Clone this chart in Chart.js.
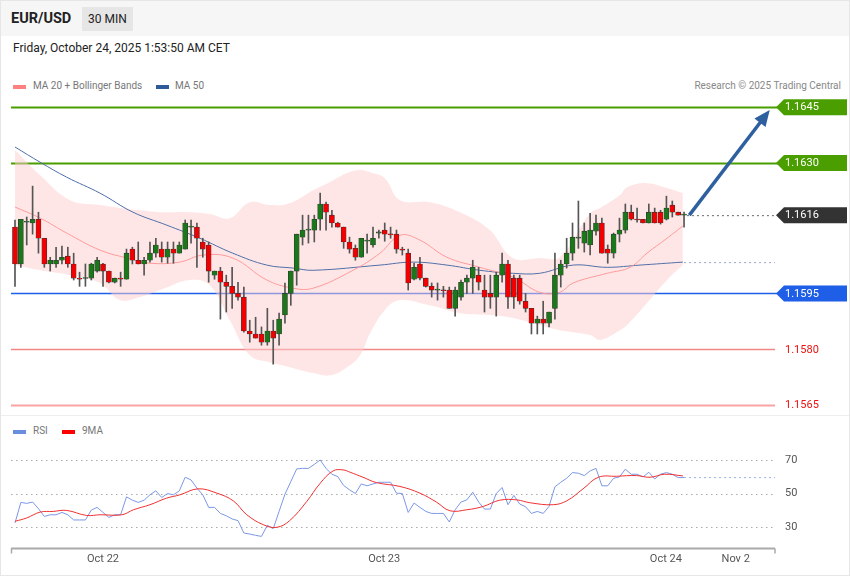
<!DOCTYPE html>
<html><head><meta charset="utf-8">
<script src="https://cdn.jsdelivr.net/npm/chart.js@4.4.1/dist/chart.umd.min.js"></script>
<style>
body{margin:0;width:850px;height:576px;overflow:hidden;font-family:Roboto,Arial,sans-serif;background:#fff;position:relative}
#frame{position:absolute;left:0;top:0;width:848px;height:574px;border:1px solid #e6e6e6}
#hdr{position:absolute;left:1px;top:1px;width:848px;height:35px;background:#f6f6f6}
.t{position:absolute;white-space:nowrap}
canvas{position:absolute;left:0}
</style></head><body>
<div id="frame"></div>
<div id="hdr"></div>
<div class="t" style="left:11px;top:10px;font-size:14.5px;font-weight:bold;color:#222">EUR/USD</div>
<div class="t" style="left:82px;top:7px;width:51px;height:24px;background:#e6e6e6;font-size:12px;line-height:24px;text-align:center;color:#222">30 MIN</div>
<div class="t" style="left:13px;top:41px;font-size:12px;color:#222">Friday, October 24, 2025 1:53:50 AM CET</div>
<div class="t" style="left:13px;top:85px;width:13px;height:4px;background:#ff8080"></div>
<div class="t" style="left:33px;top:80px;font-size:10px;color:#777">MA 20 + Bollinger Bands</div>
<div class="t" style="left:156px;top:85px;width:13px;height:4px;background:#2f5a9a"></div>
<div class="t" style="left:175px;top:80px;font-size:10px;color:#777">MA 50</div>
<div class="t" style="right:9px;top:80px;font-size:10px;color:#888">Research © 2025 Trading Central</div>
<div class="t" style="left:1px;top:415px;width:848px;height:1px;background:#eee"></div>
<div class="t" style="left:13px;top:430px;width:13px;height:4px;background:#6b8de0"></div>
<div class="t" style="left:33px;top:425px;font-size:10px;color:#777">RSI</div>
<div class="t" style="left:62px;top:430px;width:13px;height:4px;background:#f00"></div>
<div class="t" style="left:82px;top:425px;font-size:10px;color:#777">9MA</div>
<canvas id="p" width="850" height="415" style="top:0"></canvas>
<canvas id="r" width="850" height="161" style="top:415px"></canvas>
<script>
const opens=[1.16128,1.16029,1.16141,1.16139,1.16149,1.16098,1.16029,1.16029,1.16039,1.16050,1.16029,1.15991,1.15990,1.15991,1.16010,1.16029,1.16010,1.15980,1.15991,1.15988,1.16069,1.16039,1.16029,1.16039,1.16058,1.16069,1.16047,1.16069,1.16058,1.16069,1.16128,1.16128,1.16088,1.16080,1.15999,1.16010,1.15980,1.15969,1.15950,1.15940,1.15849,1.15841,1.15841,1.15819,1.15849,1.15841,1.15892,1.15950,1.16010,1.16101,1.16120,1.16120,1.16149,1.16190,1.16160,1.16139,1.16128,1.16088,1.16071,1.16047,1.16090,1.16080,1.16112,1.16120,1.16109,1.16109,1.16069,1.16058,1.15988,1.16029,1.15991,1.15969,1.15959,1.15959,1.15959,1.15910,1.15940,1.15980,1.15991,1.15999,1.15959,1.15950,1.15940,1.15999,1.16029,1.15991,1.15991,1.15929,1.15910,1.15870,1.15881,1.15870,1.15910,1.15999,1.16029,1.16058,1.16098,1.16085,1.16080,1.16117,1.16139,1.16069,1.16058,1.16109,1.16120,1.16168,1.16149,1.16149,1.16139,1.16168,1.16168,1.16149,1.16187,1.16168,1.16160];
const highs=[1.16147,1.16149,1.16155,1.16238,1.16168,1.16098,1.16047,1.16074,1.16077,1.16074,1.16058,1.16007,1.16029,1.16031,1.16047,1.16031,1.16010,1.15991,1.16007,1.16069,1.16074,1.16088,1.16047,1.16088,1.16098,1.16088,1.16088,1.16088,1.16088,1.16147,1.16147,1.16139,1.16098,1.16088,1.16010,1.16020,1.15999,1.16020,1.15980,1.15967,1.15878,1.15886,1.15860,1.15910,1.15878,1.15897,1.15978,1.16010,1.16109,1.16160,1.16160,1.16160,1.16219,1.16195,1.16173,1.16141,1.16128,1.16101,1.16080,1.16098,1.16109,1.16128,1.16120,1.16139,1.16128,1.16120,1.16074,1.16069,1.16031,1.16047,1.15991,1.15978,1.15978,1.15969,1.15967,1.15967,1.15986,1.15999,1.16039,1.16020,1.15999,1.15999,1.16007,1.16058,1.16039,1.15999,1.15999,1.15950,1.15910,1.15889,1.15929,1.15900,1.16058,1.16039,1.16098,1.16139,1.16198,1.16139,1.16165,1.16160,1.16152,1.16080,1.16112,1.16152,1.16190,1.16187,1.16179,1.16149,1.16190,1.16179,1.16173,1.16211,1.16198,1.16168,1.16168];
const lows=[1.15969,1.16020,1.16080,1.16109,1.16058,1.16020,1.16010,1.16020,1.16029,1.16020,1.15986,1.15969,1.15969,1.15986,1.16007,1.15969,1.15978,1.15978,1.15969,1.15988,1.16029,1.16029,1.15999,1.16034,1.16047,1.16034,1.16031,1.16031,1.16058,1.16069,1.16085,1.16020,1.16047,1.15980,1.15988,1.15881,1.15900,1.15910,1.15932,1.15846,1.15819,1.15830,1.15811,1.15811,1.15760,1.15811,1.15870,1.15918,1.15972,1.16080,1.16085,1.16088,1.16120,1.16120,1.16128,1.16128,1.16071,1.16058,1.16039,1.16047,1.16058,1.16074,1.16098,1.16090,1.16098,1.16058,1.16053,1.15959,1.15986,1.15986,1.15967,1.15940,1.15932,1.15940,1.15910,1.15889,1.15932,1.15950,1.15950,1.15959,1.15900,1.15910,1.15889,1.15980,1.15910,1.15910,1.15921,1.15900,1.15841,1.15841,1.15841,1.15860,1.15881,1.15967,1.16018,1.16039,1.16071,1.16061,1.16053,1.16106,1.16058,1.16031,1.16045,1.16088,1.16112,1.16147,1.16141,1.16139,1.16139,1.16139,1.16136,1.16147,1.16155,1.16160,1.16128];
const closes=[1.16029,1.16149,1.16143,1.16149,1.16098,1.16029,1.16039,1.16039,1.16047,1.16029,1.15991,1.15988,1.15990,1.16029,1.16039,1.16010,1.15980,1.15991,1.15988,1.16058,1.16039,1.16029,1.16039,1.16058,1.16080,1.16047,1.16069,1.16058,1.16080,1.16139,1.16130,1.16098,1.16069,1.16010,1.16010,1.15980,1.15969,1.15950,1.15940,1.15849,1.15841,1.15830,1.15819,1.15849,1.15830,1.15881,1.15950,1.16010,1.16109,1.16120,1.16120,1.16149,1.16190,1.16168,1.16139,1.16128,1.16088,1.16069,1.16047,1.16098,1.16093,1.16098,1.16115,1.16109,1.16107,1.16069,1.16066,1.15978,1.16020,1.15991,1.15969,1.15959,1.15959,1.15957,1.15910,1.15959,1.15980,1.15991,1.16020,1.15980,1.15940,1.15940,1.15999,1.16029,1.15940,1.15940,1.15929,1.15910,1.15870,1.15881,1.15870,1.15900,1.15999,1.16029,1.16058,1.16101,1.16101,1.16117,1.16120,1.16139,1.16058,1.16058,1.16109,1.16120,1.16168,1.16149,1.16147,1.16139,1.16168,1.16139,1.16139,1.16179,1.16168,1.16160,1.16162];
const bandX=[0,4.3,9.4,14.5,17.9,21.3,24.7,29.8,33.2,36.6,40,43.4,46.8,50.8,53.7,56.6,58.8,60.5,63,65.6,70.7,75.8,80.9,84.8,89.4,92.8,98,99.7,103.1,104.3,107.7,111.1,113.8];
const bandUpper=[1.16335,1.16267,1.16200,1.16187,1.16179,1.16173,1.16168,1.16168,1.16163,1.16152,1.16195,1.16187,1.16192,1.16227,1.16249,1.16273,1.16281,1.16275,1.16259,1.16200,1.16195,1.16168,1.16120,1.16045,1.16045,1.16047,1.16165,1.16179,1.16214,1.16235,1.16246,1.16233,1.16219];
const bandLower=[1.16026,1.16012,1.15999,1.15978,1.15932,1.15940,1.15959,1.15986,1.15972,1.15878,1.15784,1.15765,1.15752,1.15736,1.15730,1.15752,1.15784,1.15843,1.15905,1.15932,1.15918,1.15897,1.15892,1.15884,1.15865,1.15851,1.15838,1.15825,1.15851,1.15865,1.15924,1.15986,1.16026];
const ma20X=[0,4.3,8.8,14.5,19.1,23,28.1,32,37.1,42.9,47.4,50.8,57.6,62.2,65.6,69,73.6,79.2,84.8,89.4,92.8,95.1,100.9,104.8,107.7,111.1,113.8];
const ma20=[1.16182,1.16152,1.16112,1.16066,1.16045,1.16031,1.16034,1.16053,1.16045,1.15986,1.15964,1.15964,1.16012,1.16058,1.16106,1.16093,1.16047,1.16020,1.15994,1.15953,1.15953,1.15978,1.16004,1.16020,1.16058,1.16098,1.16131];
const ma50X=[0,4.3,8.8,14.5,20.1,25.9,31.5,37.1,42.9,47.4,50.8,62.2,67.8,73.6,79.2,84.8,89.4,95.1,100.9,106.5,113.8];
const ma50=[1.16343,1.16302,1.16262,1.16219,1.16168,1.16133,1.16098,1.16058,1.16026,1.16018,1.16012,1.16026,1.16034,1.16026,1.16012,1.16004,1.16004,1.16026,1.16020,1.16026,1.16034];
const rsi=[32.4,44.7,44.1,44.9,40.9,36.3,37.3,37.3,38.7,37.3,34.2,34.2,34.2,40.1,41.7,38.7,35.7,37.3,37.3,48,46,44.7,46,49.2,51.6,47.6,50,49.2,51.6,59.7,58.1,53.2,49.2,41.7,41.7,38.1,36.7,34.8,33.8,26.4,25.8,25,24.4,31,29,39.3,49.6,57.1,64.7,65,65,67.4,70,65,61.5,60.1,54.8,52.2,
50,55.7,54.6,55.7,56.7,56.7,56.7,50.2,50,38.7,44.3,41.7,39.3,38.1,38.1,38.1,33,40.3,44.9,46.2,50.8,44.9,40.7,40.7,50,53.6,43.3,48.9,43.7,42.1,38.1,39.3,38.1,42.3,54,56.7,59.1,62.5,62.1,60.7,63.5,65,54.6,54.6,59.1,59.9,64.5,61.5,61.5,59.9,62.7,58.7,61.5,62.5,61.5,59.5,59.5];
const rsiMaX=[0,2,4.3,6.5,8.8,12.2,14.5,18.2,20.2,23,25.8,28.1,31.2,34.4,37.2,39.5,42.3,44.6,46.8,49.7,52,54.2,55.9,57.1,59.3,61.6,65.6,69,71.8,74.1,77,79.8,82.6,85.5,87.7,91.7,94,96.8,99.4,102.5,105.9,108.2,110.7,113.8];
const rsiMa=[33.4,35.4,38.9,39.3,39.9,36.9,37.3,37.3,40.3,43.3,47.2,49.2,52.8,50.2,45.6,37.3,31.4,29.8,33.8,45.2,56.1,63.5,64.1,62.7,59.7,56.5,54.2,50.2,44.9,39.7,40.3,42.3,46,46.2,44.5,43.3,45.6,52.8,59.7,60.3,60.7,59.7,61.5,60.5];
const levels=[{v:1.1645,t:'1.1645',c:'#4a9e00',w:2,tag:true},{v:1.1630,t:'1.1630',c:'#4a9e00',w:2,tag:true},{v:1.1616,t:'1.1616',c:'#333333',w:0,tag:true},{v:1.1595,t:'1.1595',c:'#1f5fe8',w:1.5,tag:true},{v:1.1580,t:'1.1580',c:'#f38686',w:1.3,tag:false},{v:1.1565,t:'1.1565',c:'#f8a4a4',w:2,tag:false}];
const rsiTicks=[70,50,30];
const dateTicks=[{x:15,t:'Oct 22'},{x:62.9,t:'Oct 23'},{x:110.9,t:'Oct 24'},{x:122.8,t:'Nov 2'}];
const arrowFrom={x:114.9,y:1.1616}, arrowTo={x:128.6,y:1.16442};
const lastClose=1.1616, ma50Ext=1.16034, rsiExt=59.5;

const XMIN=-0.68, XMAX=129.5;
const pair=(xs,ys)=>xs.map((x,i)=>({x,y:ys[i]}));
const idx=opens.map((_,i)=>i);
const bodyCol=idx.map(i=>closes[i]>=opens[i]?'#1a781a':'#f00000');

const pricePlugin={id:'pp',
 beforeDatasetsDraw(c){const {ctx,scales:{x,y}}=c;
  ctx.save();
  levels.forEach(l=>{ if(!l.w) return; const py=Math.round(y.getPixelForValue(l.v))+0.5;
   ctx.strokeStyle=l.c;ctx.lineWidth=l.w;ctx.beginPath();ctx.moveTo(11,py);ctx.lineTo(l.tag?790:775,py);ctx.stroke();});
  ctx.restore();},
 afterDatasetsDraw(c){const {ctx,scales:{x,y}}=c;
  ctx.save();
  ctx.setLineDash([2,3]);ctx.lineWidth=1;
  ctx.strokeStyle='#666';let py=y.getPixelForValue(lastClose)+0.5;
  ctx.beginPath();ctx.moveTo(x.getPixelForValue(114.5),py);ctx.lineTo(775,py);ctx.stroke();
  ctx.strokeStyle='#9aaac8';py=y.getPixelForValue(ma50Ext)+0.5;
  ctx.beginPath();ctx.moveTo(x.getPixelForValue(114),py);ctx.lineTo(775,py);ctx.stroke();
  ctx.setLineDash([]);
  const ax=x.getPixelForValue(arrowFrom.x),ay=y.getPixelForValue(arrowFrom.y),bx=x.getPixelForValue(arrowTo.x),by=y.getPixelForValue(arrowTo.y);
  const ang=Math.atan2(by-ay,bx-ax);
  ctx.strokeStyle='#2e5f9e';ctx.fillStyle='#2e5f9e';ctx.lineWidth=3.5;
  ctx.beginPath();ctx.moveTo(ax,ay);ctx.lineTo(bx-10*Math.cos(ang),by-10*Math.sin(ang));ctx.stroke();
  ctx.beginPath();ctx.moveTo(bx,by);
  ctx.lineTo(bx-16*Math.cos(ang)+7*Math.sin(ang),by-16*Math.sin(ang)-7*Math.cos(ang));
  ctx.lineTo(bx-16*Math.cos(ang)-7*Math.sin(ang),by-16*Math.sin(ang)+7*Math.cos(ang));ctx.closePath();ctx.fill();
  ctx.font='11px Roboto, Arial, sans-serif';ctx.textBaseline='middle';
  levels.forEach(l=>{const py=y.getPixelForValue(l.v);
   if(l.tag){ctx.fillStyle=l.c;ctx.beginPath();ctx.moveTo(776,py);ctx.lineTo(784,py-8);ctx.lineTo(847,py-8);ctx.lineTo(847,py+8);ctx.lineTo(784,py+8);ctx.closePath();ctx.fill();
     ctx.fillStyle='#fff';ctx.fillText(l.t,785,py+0.5);}
   else{ctx.fillStyle='#ee1111';ctx.fillText(l.t,785,py+0.5);}
  });
  ctx.restore();}
};

new Chart(document.getElementById('p'),{
 data:{datasets:[
  {type:'line',data:pair(bandX,bandUpper),borderWidth:0,pointRadius:0,tension:0.4,fill:'+1',backgroundColor:'rgba(255,205,205,0.5)',order:10},
  {type:'line',data:pair(bandX,bandLower),borderWidth:0,pointRadius:0,tension:0.4,fill:false,order:10},
  {type:'line',data:pair(ma20X,ma20),borderColor:'#ff9a9a',borderWidth:1,pointRadius:0,tension:0.4,fill:false,order:5},
  {type:'line',data:pair(ma50X,ma50),borderColor:'#4f6fa8',borderWidth:1,pointRadius:0,tension:0.4,fill:false,order:5},
  {type:'bar',data:idx.map(i=>({x:i,y:[lows[i],highs[i]]})),backgroundColor:'#555',barThickness:1,grouped:false,order:3},
  {type:'bar',data:idx.map(i=>({x:i,y:[opens[i],closes[i]]})),backgroundColor:bodyCol,borderColor:'#333',borderWidth:0.6,borderSkipped:false,barThickness:5,minBarLength:1,grouped:false,order:1}
 ]},
 options:{responsive:false,animation:false,events:[],
  layout:{padding:{left:11,right:75,top:90,bottom:5}},
  plugins:{legend:{display:false},tooltip:{enabled:false}},
  scales:{x:{type:'linear',offset:false,min:XMIN,max:XMAX,display:false},
   y:{min:1.15637,max:1.16496,display:false}}},
 plugins:[pricePlugin]
});

const rsiPlugin={id:'rp',
 beforeDatasetsDraw(c){const {ctx,scales:{x,y}}=c;ctx.save();
  ctx.setLineDash([1.5,3.5]);ctx.strokeStyle='#aaa';ctx.lineWidth=1;
  rsiTicks.forEach(v=>{const py=Math.round(y.getPixelForValue(v))+0.5;ctx.beginPath();ctx.moveTo(11,py);ctx.lineTo(775,py);ctx.stroke();});
  ctx.setLineDash([]);ctx.restore();},
 afterDatasetsDraw(c){const {ctx,scales:{x,y}}=c;ctx.save();
  ctx.setLineDash([2,3]);ctx.strokeStyle='#9fb2e8';ctx.lineWidth=1;
  let py=y.getPixelForValue(rsiExt);ctx.beginPath();ctx.moveTo(x.getPixelForValue(114),py);ctx.lineTo(775,py);ctx.stroke();ctx.setLineDash([]);
  ctx.font='11px Roboto, Arial, sans-serif';ctx.fillStyle='#555';ctx.textBaseline='middle';
  rsiTicks.forEach(v=>ctx.fillText(String(v),785,y.getPixelForValue(v)));
  const ay=133.5;ctx.strokeStyle='#aaa';ctx.lineWidth=2;ctx.beginPath();ctx.moveTo(11,ay);ctx.lineTo(775,ay);ctx.stroke();
  ctx.lineWidth=1.5;ctx.beginPath();ctx.moveTo(11.5,ay);ctx.lineTo(11.5,ay+5);ctx.moveTo(775,ay);ctx.lineTo(775,ay+5);ctx.stroke();
  ctx.textAlign='center';ctx.fillStyle='#555';
  dateTicks.forEach(d=>ctx.fillText(d.t,x.getPixelForValue(d.x),144));
  ctx.restore();}
};
new Chart(document.getElementById('r'),{
 data:{datasets:[
  {type:'line',data:idx.map(i=>({x:i,y:rsi[i]})),borderColor:'#7b97e6',borderWidth:1,pointRadius:0,tension:0,order:2},
  {type:'line',data:pair(rsiMaX,rsiMa),borderColor:'#f03030',borderWidth:1,pointRadius:0,tension:0.4,order:1}
 ]},
 options:{responsive:false,animation:false,events:[],
  layout:{padding:{left:11,right:75,top:30,bottom:28}},
  plugins:{legend:{display:false},tooltip:{enabled:false}},
  scales:{x:{type:'linear',min:XMIN,max:XMAX,display:false},y:{min:17.46,max:78.96,display:false}}},
 plugins:[rsiPlugin]
});
</script></body></html>
